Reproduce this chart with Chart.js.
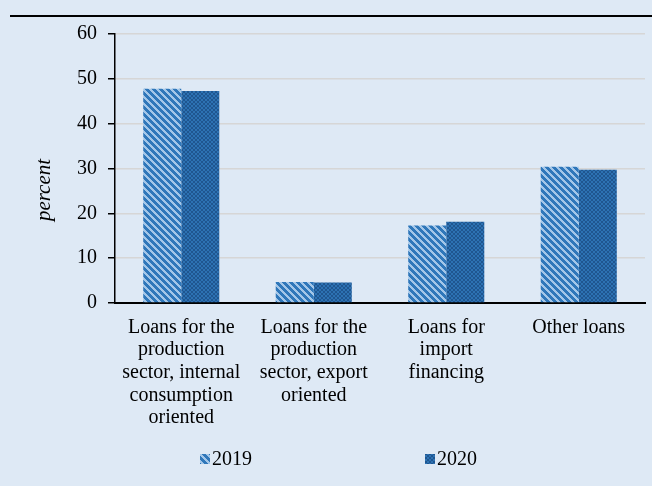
<!DOCTYPE html>
<html>
<head>
<meta charset="utf-8">
<script src="https://cdn.jsdelivr.net/npm/chart.js@4/dist/chart.umd.min.js"></script>
<style>
  html, body { margin: 0; padding: 0; background: #DEE9F5; }
  #wrap { width: 652px; height: 486px; position: relative; }
</style>
</head>
<body>
<div id="wrap"><canvas id="c" width="652" height="486"></canvas></div>
<script>
// Loan structure by purpose, share of total (percent)
const categories = [
  ['Loans for the', 'production', 'sector, internal', 'consumption', 'oriented'],
  ['Loans for the', 'production', 'sector, export', 'oriented'],
  ['Loans for', 'import', 'financing'],
  ['Other loans']
];
const seriesLabels = ['2019', '2020'];
const values2019 = [47.8, 4.7, 17.3, 30.4];
const values2020 = [47.3, 4.6, 18.1, 29.7];
const yTicks = [0, 10, 20, 30, 40, 50, 60];

const SERIF = '"Liberation Serif", "Times New Roman", serif';

// Hatched fills built from small pixel tiles
function stripePattern() {
  const n = 7;
  const t = document.createElement('canvas');
  t.width = n; t.height = n;
  const g = t.getContext('2d');
  g.fillStyle = '#A3C6E8';
  g.fillRect(0, 0, n, n);
  g.fillStyle = '#2F77BA';
  for (let y = 0; y < n; y++) {
    for (let x = 0; x < n; x++) {
      if (((x - y) % n + n) % n < 4) g.fillRect(x, y, 1, 1);
    }
  }
  return g.createPattern(t, 'repeat');
}
function checkPattern() {
  const n = 8;
  const t = document.createElement('canvas');
  t.width = n; t.height = n;
  const g = t.getContext('2d');
  g.fillStyle = '#2D72B3';
  g.fillRect(0, 0, n, n);
  g.fillStyle = '#1F5690';
  for (let y = 0; y < n; y++) {
    for (let x = 0; x < n; x++) {
      const a = (Math.floor(x / 2) + Math.floor(y / 2)) % 2 === 0;
      if (a && (x + y) % 2 === 0) g.fillRect(x, y, 1, 1);
      if (!a && (x + y) % 2 === 1) g.fillRect(x, y, 1, 1);
    }
  }
  return g.createPattern(t, 'repeat');
}

const fills = [stripePattern(), checkPattern()];

// Page background and the rule across the top
const frame = {
  id: 'frame',
  beforeDraw(chart) {
    const ctx = chart.ctx;
    ctx.save();
    ctx.fillStyle = '#DEE9F5';
    ctx.fillRect(0, 0, chart.width, chart.height);
    ctx.fillStyle = '#000';
    ctx.fillRect(10, 15, chart.width - 10, 2);
    ctx.restore();
  }
};

// Axis caption and legend row
const extras = {
  id: 'extras',
  afterDraw(chart) {
    const ctx = chart.ctx;
    ctx.save();
    ctx.fillStyle = '#000';
    ctx.font = 'italic 21px ' + SERIF;
    ctx.textAlign = 'center';
    ctx.textBaseline = 'middle';
    ctx.translate(44, 190);
    ctx.rotate(-Math.PI / 2);
    ctx.fillText('percent', 0, 0);
    ctx.restore();

    const items = [{x: 200}, {x: 425}];
    ctx.save();
    ctx.font = '20px ' + SERIF;
    ctx.textBaseline = 'middle';
    ctx.textAlign = 'left';
    chart.data.datasets.forEach((ds, i) => {
      const x = items[i].x;
      const y = 459;
      ctx.fillStyle = ds.backgroundColor;
      ctx.fillRect(x, y - 5, 10, 10);
      ctx.fillStyle = '#000';
      ctx.fillText(ds.label, x + 12, y + 1);
    });
    ctx.restore();
  }
};

new Chart(document.getElementById('c'), {
  type: 'bar',
  data: {
    labels: categories,
    datasets: [
      { label: seriesLabels[0], data: values2019, backgroundColor: fills[0], borderWidth: 0 },
      { label: seriesLabels[1], data: values2020, backgroundColor: fills[1], borderWidth: 0 }
    ]
  },
  options: {
    responsive: false,
    animation: false,
    layout: { padding: { top: 34, right: 7, bottom: 0, left: 0 } },
    categoryPercentage: 0.574,
    barPercentage: 1.0,
    plugins: {
      legend: { display: false },
      tooltip: { enabled: false }
    },
    scales: {
      x: {
        grid: { display: false, drawTicks: false },
        border: { display: true, color: '#000', width: 2 },
        ticks: {
          color: '#000',
          font: { family: SERIF, size: 20, lineHeight: 1.135 },
          padding: 13,
          maxRotation: 0,
          autoSkip: false
        },
        afterFit(scale) { scale.height = 486 - 303; }
      },
      y: {
        min: 0,
        max: 60,
        afterBuildTicks(scale) { scale.ticks = yTicks.map(v => ({ value: v })); },
        grid: {
          color: '#D6D6D6',
          lineWidth: 1.5,
          drawTicks: true,
          tickLength: 7,
          tickColor: '#000',
          tickWidth: 1.5
        },
        border: { display: true, color: '#000', width: 1.5 },
        ticks: {
          color: '#000',
          font: { family: SERIF, size: 20 },
          padding: 11
        },
        afterFit(scale) { scale.width = 115; }
      }
    }
  },
  plugins: [frame, extras]
});
</script>
</body>
</html>
